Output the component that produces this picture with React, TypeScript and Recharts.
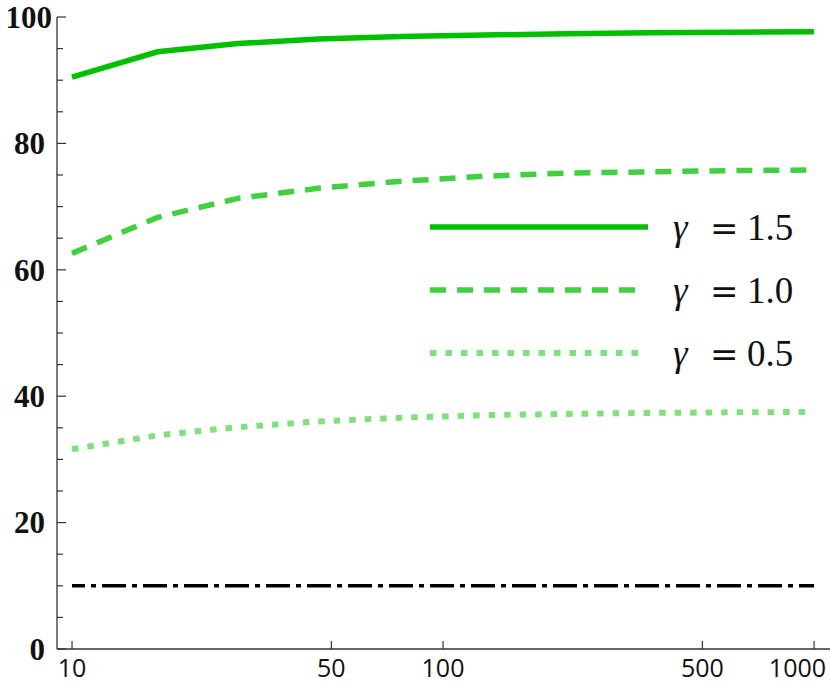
import { CartesianGrid, Legend, Line, LineChart, XAxis, YAxis } from "recharts";

// sample sizes (log-spaced) and the three gamma curves
const sizes = [10, 17, 28, 46, 77, 129, 215, 359, 599, 1000];
const gamma15 = [90.5, 94.5, 95.8, 96.5, 96.9, 97.15, 97.35, 97.5, 97.6, 97.65];
const gamma10 = [62.6, 68.3, 71.3, 72.9, 74.0, 74.8, 75.3, 75.5, 75.7, 75.8];
const gamma05 = [31.6, 33.8, 35.1, 36.0, 36.6, 37.0, 37.2, 37.35, 37.45, 37.5];
const baseline = [10, 10, 10, 10, 10, 10, 10, 10, 10, 10];

const xTicks = [10, 50, 100, 500, 1000];
const yTicks = [0, 5, 10, 15, 20, 25, 30, 35, 40, 45, 50, 55, 60, 65, 70, 75, 80, 85, 90, 95, 100];
const yLabels = [0, 20, 40, 60, 80, 100];

const rows = sizes.map((n, i) => ({
  n,
  g15: gamma15[i],
  g10: gamma10[i],
  g05: gamma05[i],
  base: baseline[i],
}));

const legendItems = [
  { key: "g15", label: "1.5", color: "#00c000", width: 5.5, dash: undefined, len: 218 },
  { key: "g10", label: "1.0", color: "#40d040", width: 5.5, dash: "16 11", len: 206 },
  { key: "g05", label: "0.5", color: "#80e080", width: 6, dash: "6.5 9", len: 208 },
];

const AXIS = "#333";
const Y_GAP = 12;
const X_GAP = 10;

function YTick(props: any) {
  const { x, y, payload } = props;
  const v = payload.value;
  const major = yLabels.includes(v);
  const ax = x + Y_GAP;
  return (
    <g>
      <line x1={ax} x2={ax + (major ? 9 : 6)} y1={y} y2={y} stroke={AXIS} strokeWidth={1.2} />
      {major && (
        <text
          x={x}
          y={y}
          dx={v === 100 ? 7 : 0}
          dy="0.35em"
          textAnchor="end"
          fontFamily="'Liberation Serif', serif"
          fontWeight="bold"
          fontSize={31}
          fill="#111"
        >
          {v}
        </text>
      )}
    </g>
  );
}

function XTick(props: any) {
  const { x, y, payload } = props;
  const last = payload.value === 1000;
  const ay = y - X_GAP;
  return (
    <g>
      <line x1={x} x2={x} y1={ay} y2={ay - 8} stroke={AXIS} strokeWidth={1.2} />
      <text
        x={x}
        y={y}
        dx={last ? 12 : 0}
        dy="0.71em"
        textAnchor={last ? "end" : "middle"}
        fontFamily="'Open Sans', sans-serif"
        fontSize={25}
        fill="#111"
      >
        {payload.value}
      </text>
    </g>
  );
}

function GammaLegend() {
  return (
    <svg width={400} height={190} style={{ overflow: "visible" }}>
      {legendItems.map((it, i) => {
        const ly = 22 + i * 63;
        return (
          <g key={it.key}>
            <line
              x1={2}
              x2={2 + it.len}
              y1={ly}
              y2={ly}
              stroke={it.color}
              strokeWidth={it.width}
              strokeDasharray={it.dash}
            />
            <text y={ly + 13} fontFamily="'Liberation Serif', serif" fontSize={37} fill="#111">
              <tspan x={245} fontStyle="italic">γ</tspan>
              <tspan x={282} fontFamily="'DejaVu Serif', serif" fontSize={34}>=</tspan>
              <tspan x={319}>{it.label}</tspan>
            </text>
          </g>
        );
      })}
    </svg>
  );
}

export default function App() {
  return (
    <div style={{ position: "absolute", left: 0, top: 0, width: 830, height: 684, background: "#fff" }}>
      <LineChart width={830} height={684} data={rows} margin={{ top: 17, right: 0, left: 0, bottom: 0 }}>
        <CartesianGrid stroke="none" />
        <XAxis
          dataKey="n"
          type="number"
          scale="log"
          domain={[9.11, 1104]}
          allowDataOverflow
          ticks={xTicks}
          interval={0}
          height={35}
          tickSize={0}
          tickMargin={X_GAP}
          tickLine={false}
          tick={<XTick />}
          axisLine={{ stroke: AXIS, strokeWidth: 1.3 }}
        />
        <YAxis
          type="number"
          domain={[0, 100]}
          ticks={yTicks}
          interval={0}
          width={57}
          tickSize={0}
          tickMargin={Y_GAP}
          tickLine={false}
          tick={<YTick />}
          axisLine={{ stroke: AXIS, strokeWidth: 1.3 }}
        />
        <Legend
          layout="horizontal"
          verticalAlign="middle"
          align="center"
          content={<GammaLegend />}
          wrapperStyle={{ position: "absolute", left: 428, top: 205, width: 400, height: 190 }}
        />
        <Line
          dataKey="base"
          stroke="#000"
          strokeWidth={3.5}
          strokeDasharray="24 6 5 6"
          strokeDashoffset={11}
          dot={false}
          legendType="none"
          isAnimationActive={false}
        />
        <Line dataKey="g05" stroke="#80e080" strokeWidth={6} strokeDasharray="6.5 9" dot={false} isAnimationActive={false} />
        <Line dataKey="g10" stroke="#40d040" strokeWidth={5.5} strokeDasharray="16 11" dot={false} isAnimationActive={false} />
        <Line dataKey="g15" stroke="#00c000" strokeWidth={5.5} dot={false} isAnimationActive={false} />
      </LineChart>
    </div>
  );
}
